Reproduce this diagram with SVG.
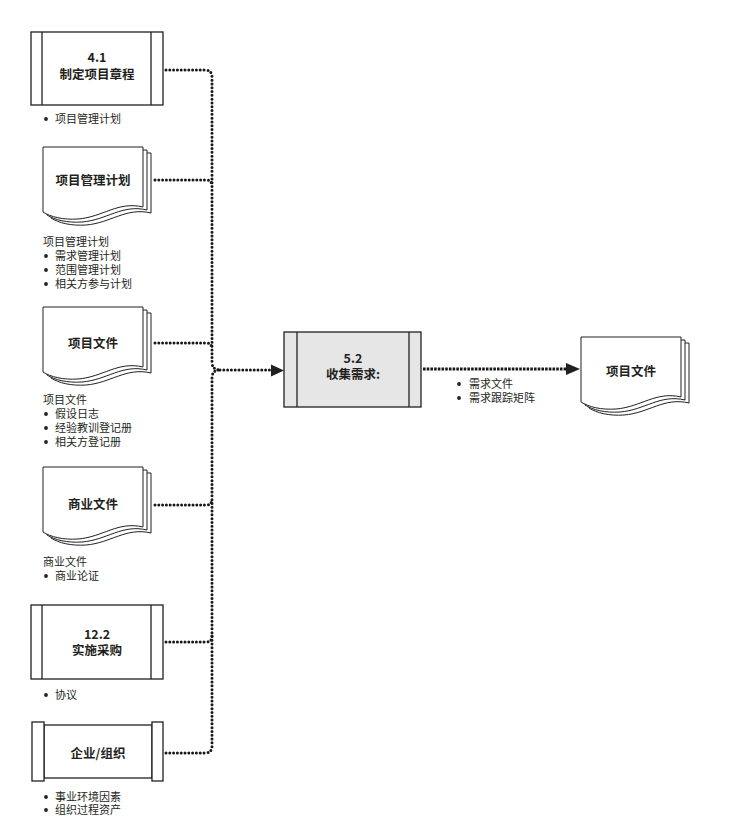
<svg xmlns="http://www.w3.org/2000/svg" width="737" height="837" viewBox="0 0 737 837">
<defs>
<style>
.box{fill:#fff;stroke:#231f20;stroke-width:1.3}
.proc{fill:#e6e6e6;stroke:#231f20;stroke-width:1.3}
.pg{fill:#fff;stroke:#231f20;stroke-width:1}
.lbl{font-family:"Noto Sans CJK SC","Liberation Sans",sans-serif;font-size:12.5px;font-weight:bold;fill:#231f20;text-anchor:middle}
.lst{font-family:"Noto Sans CJK SC","Liberation Sans",sans-serif;font-size:11px;fill:#231f20}
.dot{fill:none;stroke:#1a1718;stroke-width:3;stroke-linecap:round;stroke-dasharray:0 3.8}
.dash{fill:none;stroke:#1a1718;stroke-width:2.8;stroke-dasharray:2.6 1.1}
.bul{fill:#231f20}
</style>
<path id="doc" d="M0,0 H100 V60 C75,54 60,70 35,72 C20,73 8,70 0,65 Z"/>
</defs>

<g id="n-charter">
<rect class="box" x="31" y="32" width="132" height="73"/>
<line class="box" x1="42" y1="32" x2="42" y2="105"/>
<line class="box" x1="151" y1="32" x2="151" y2="105"/>
<text class="lbl" x="97" y="62">4.1</text>
<text class="lbl" x="97" y="79">制定项目章程</text>
<circle class="bul" cx="46" cy="119" r="1.9"/>
<text class="lst" x="55" y="123">项目管理计划</text>
</g>

<g id="n-pmplan">
<use href="#doc" class="pg" x="51" y="153"/>
<use href="#doc" class="pg" x="47" y="150"/>
<use href="#doc" class="pg" x="43" y="147"/>
<text class="lbl" x="93" y="184.5">项目管理计划</text>
<text class="lst" x="43" y="246">项目管理计划</text>
<circle class="bul" cx="46" cy="256" r="1.9"/>
<text class="lst" x="55" y="260">需求管理计划</text>
<circle class="bul" cx="46" cy="270" r="1.9"/>
<text class="lst" x="55" y="274">范围管理计划</text>
<circle class="bul" cx="46" cy="284" r="1.9"/>
<text class="lst" x="55" y="288">相关方参与计划</text>
</g>

<g id="n-projdocs">
<use href="#doc" class="pg" x="51" y="313"/>
<use href="#doc" class="pg" x="47" y="310"/>
<use href="#doc" class="pg" x="43" y="307"/>
<text class="lbl" x="93" y="347.5">项目文件</text>
<text class="lst" x="43" y="404">项目文件</text>
<circle class="bul" cx="46" cy="414" r="1.9"/>
<text class="lst" x="55" y="418">假设日志</text>
<circle class="bul" cx="46" cy="428" r="1.9"/>
<text class="lst" x="55" y="432">经验教训登记册</text>
<circle class="bul" cx="46" cy="442" r="1.9"/>
<text class="lst" x="55" y="446">相关方登记册</text>
</g>

<g id="n-busdocs">
<use href="#doc" class="pg" x="51" y="473"/>
<use href="#doc" class="pg" x="47" y="470"/>
<use href="#doc" class="pg" x="43" y="467"/>
<text class="lbl" x="93" y="509">商业文件</text>
<text class="lst" x="43" y="566">商业文件</text>
<circle class="bul" cx="46" cy="576" r="1.9"/>
<text class="lst" x="55" y="580">商业论证</text>
</g>

<g id="n-procure">
<rect class="box" x="31" y="605" width="132" height="74"/>
<line class="box" x1="42" y1="605" x2="42" y2="679"/>
<line class="box" x1="151" y1="605" x2="151" y2="679"/>
<text class="lbl" x="97" y="639">12.2</text>
<text class="lbl" x="97" y="655">实施采购</text>
<circle class="bul" cx="46" cy="695" r="1.9"/>
<text class="lst" x="55" y="699">协议</text>
</g>

<g id="n-enterprise">
<rect class="box" x="44" y="725" width="108" height="53"/>
<rect class="box" x="32" y="722" width="12" height="59"/>
<rect class="box" x="152" y="722" width="11" height="59"/>
<text class="lbl" x="98" y="757.5">企业/组织</text>
<circle class="bul" cx="46" cy="797" r="1.9"/>
<text class="lst" x="55" y="801">事业环境因素</text>
<circle class="bul" cx="46" cy="810" r="1.9"/>
<text class="lst" x="55" y="814">组织过程资产</text>
</g>

<g id="n-collect">
<rect class="proc" x="284" y="332" width="137" height="75"/>
<line class="proc" x1="297" y1="332" x2="297" y2="407"/>
<line class="proc" x1="409" y1="332" x2="409" y2="407"/>
<text class="lbl" x="353" y="363">5.2</text>
<text class="lbl" x="353" y="379">收集需求:</text>
</g>

<g id="n-out">
<use href="#doc" class="pg" x="589" y="343"/>
<use href="#doc" class="pg" x="585" y="340"/>
<use href="#doc" class="pg" x="581" y="337"/>
<text class="lbl" x="631" y="376">项目文件</text>
<circle class="bul" cx="459" cy="384" r="1.9"/>
<text class="lst" x="469" y="388">需求文件</text>
<circle class="bul" cx="459" cy="398" r="1.9"/>
<text class="lst" x="469" y="402">需求跟踪矩阵</text>
</g>

<g id="connectors">
<path class="dot" d="M166,70 H205 Q212,70 212,77 V362 Q212,370 220,370"/>
<path class="dot" d="M166,753 H205 Q212,753 212,746 V378 Q212,370 220,370"/>
<path class="dot" d="M155,180 H206 Q212,180 212,186"/>
<path class="dot" d="M155,343 H206 Q212,343 212,349"/>
<path class="dot" d="M155,505 H206 Q212,505 212,499"/>
<path class="dot" d="M166,642 H206 Q212,642 212,636"/>
<path class="dot" d="M220,370 H272"/>
<polygon class="bul" points="271,364.5 284,370.5 271,376.5"/>
<path class="dash" d="M423,369 H568"/>
<polygon class="bul" points="566,363 580,369 566,375"/>
</g>
</svg>
